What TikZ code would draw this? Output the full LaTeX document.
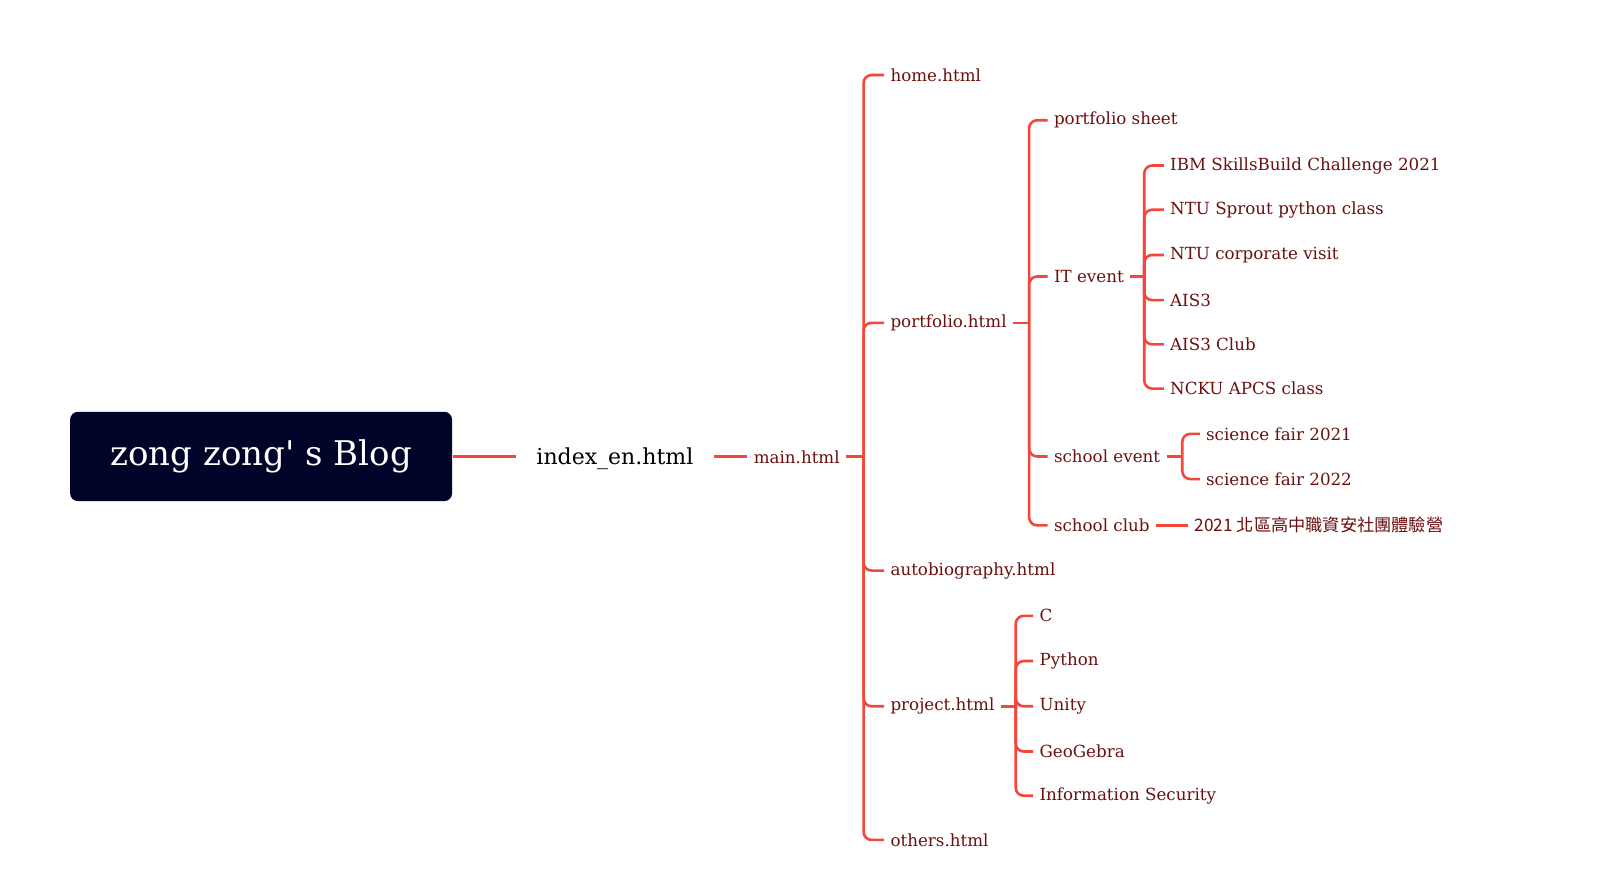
\documentclass[tikz,border=0pt]{standalone}
\usepackage{fontspec}
\setmainfont{DejaVu Serif}
\newfontfamily\plainserif{DejaVu Serif}[Ligatures=TeXOff]
\newfontfamily\cjk{Noto Sans CJK TC}
\definecolor{lin}{HTML}{F6463B}
\definecolor{lab}{HTML}{6B1010}
\definecolor{rootc}{HTML}{000428}
\tikzset{
  lbl/.style={anchor=west, inner xsep=3pt, inner ysep=1pt, text=lab, font=\fontsize{8.35}{10}\selectfont},
  br/.style={draw=lin, line width=1.3pt, rounded corners=4pt},
  stub/.style={draw=lin, line width=1.3pt},
  rootbox/.style={fill=rootc, rounded corners=4pt, minimum width=191pt, minimum height=44.7pt, text=white, font=\plainserif\fontsize{17}{20}\selectfont},
}
\begin{document}
\begin{tikzpicture}[x=0.514pt, y=-0.514pt]
\useasboundingbox[fill=white] (0,0) rectangle (1568,864);
\node[rootbox] (root) at (254,444) {\raisebox{-1.5pt}{zong zong' s Blog}};
\node[anchor=west, inner xsep=10pt, font=\fontsize{11}{13}\selectfont] (idx) at (502,446) {index\_en.html};
\node[lbl] (main) at (727,445) {main.html};
\coordinate (s1) at (840,444);
\draw[stub, line width=1.6pt] (root.east) -- (root.east -| idx.west);
\draw[stub, line width=1.6pt] (idx.east |- s1) -- (main.west |- s1);
% level 1
\node[lbl] (home) at (860,73) {home.html};
\node[lbl] (port) at (860,314) {portfolio.html};
\node[lbl] (auto) at (860,555) {autobiography.html};
\node[lbl] (proj) at (860,687) {project.html};
\node[lbl] (oth) at (860,817) {others.html};
\draw[stub] (main.east |- s1) -- (s1);
\foreach \c in {home,port,auto,proj,oth} \draw[br] (s1) |- (\c.west);
% portfolio
\coordinate (s2) at (1001,314);
\node[lbl] (sheet) at (1019,117) {portfolio sheet};
\node[lbl] (itev) at (1019,269) {IT event};
\node[lbl] (sev) at (1019,444) {school event};
\node[lbl] (sclub) at (1019,511) {school club};
\draw[stub] (port.east) -- (s2);
\foreach \c in {sheet,itev,sev,sclub} \draw[br] (s2) |- (\c.west);
% IT event
\coordinate (s3) at (1113,269);
\node[lbl] (it1) at (1132,161) {IBM SkillsBuild Challenge 2021};
\node[lbl] (it2) at (1132,204) {NTU Sprout python class};
\node[lbl] (it3) at (1132,248) {NTU corporate visit};
\node[lbl] (it4) at (1132,292) {AIS3};
\node[lbl] (it5) at (1132,335) {AIS3 Club};
\node[lbl] (it6) at (1132,378) {NCKU APCS class};
\draw[stub] (itev.east) -- (s3);
\foreach \c in {it1,it2,it3,it4,it5,it6} \draw[br] (s3) |- (\c.west);
% school event
\coordinate (s4) at (1150,444);
\node[lbl] (sf1) at (1167,422) {science fair 2021};
\node[lbl] (sf2) at (1167,466) {science fair 2022};
\draw[stub] (sev.east) -- (s4);
\foreach \c in {sf1,sf2} \draw[br] (s4) |- (\c.west);
% school club
\node[lbl, font=\cjk\fontsize{8.6}{10}\selectfont] (camp) at (1156,511) {2021 北區高中職資安社團體驗營};
\draw[stub] (sclub.east) -- (camp.west);
% project
\coordinate (s5) at (988,687);
\node[lbl] (p1) at (1005,599) {C};
\node[lbl] (p2) at (1005,643) {Python};
\node[lbl] (p3) at (1005,687) {Unity};
\node[lbl] (p4) at (1005,731) {GeoGebra};
\node[lbl] (p5) at (1005,774) {Information Security};
\draw[stub] (proj.east) -- (s5);
\foreach \c in {p1,p2,p3,p4,p5} \draw[br] (s5) |- (\c.west);
\end{tikzpicture}
\end{document}
